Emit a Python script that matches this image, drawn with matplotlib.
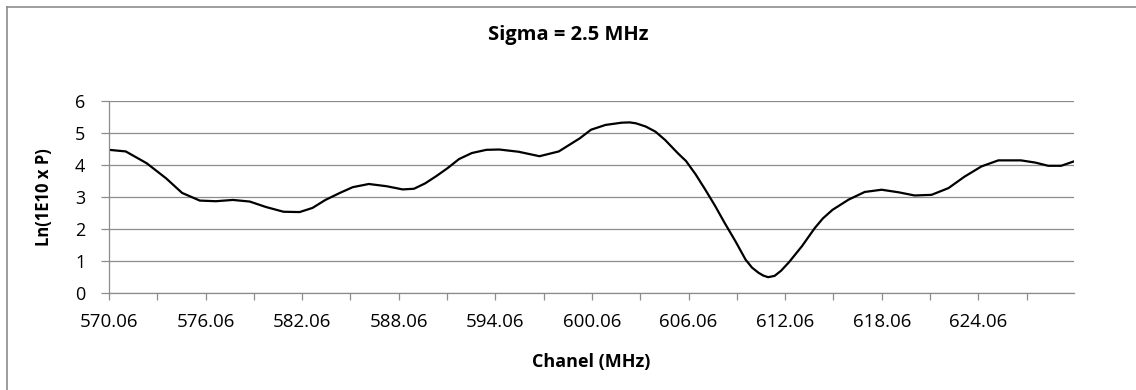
import matplotlib
matplotlib.use("Agg")
import matplotlib.pyplot as plt
from matplotlib.lines import Line2D

# Data
freq_mhz = [570.06, 571.1, 572.4, 573.6, 574.6, 575.7, 576.7, 577.75, 578.8, 579.8,
            580.9, 581.9, 582.7, 583.5, 584.4, 585.2, 586.2, 587.3, 588.3, 589.0,
            589.7, 590.4, 591.1, 591.8, 592.6, 593.5, 594.3, 595.5, 596.8, 598.0,
            599.3, 600.0, 600.9, 601.9, 602.4, 602.8, 603.4, 604.0, 604.6, 605.4,
            605.9, 606.5, 607.1, 607.7, 608.3, 609.0, 609.6, 610.0, 610.4, 610.7,
            611.0, 611.4, 611.8, 612.3, 612.7, 613.1, 613.9, 614.4, 615.0, 616.0,
            617.0, 618.05, 619.1, 620.1, 621.15, 622.2, 623.2, 624.25, 625.3, 626.7,
            627.6, 628.4, 629.2, 629.95]
ln_power = [4.47, 4.42, 4.05, 3.58, 3.12, 2.88, 2.86, 2.90, 2.85, 2.68,
            2.53, 2.52, 2.65, 2.90, 3.12, 3.30, 3.40, 3.33, 3.23, 3.25,
            3.42, 3.65, 3.90, 4.18, 4.37, 4.47, 4.48, 4.41, 4.27, 4.42,
            4.83, 5.10, 5.25, 5.32, 5.33, 5.30, 5.20, 5.04, 4.78, 4.36,
            4.12, 3.70, 3.22, 2.72, 2.18, 1.58, 1.03, 0.78, 0.62, 0.53,
            0.48, 0.52, 0.68, 0.95, 1.20, 1.45, 2.02, 2.32, 2.59, 2.91,
            3.15, 3.22, 3.14, 3.04, 3.06, 3.27, 3.63, 3.95, 4.14, 4.14,
            4.07, 3.97, 3.97, 4.10]
x_ticks = [570.06 + 3 * i for i in range(20)]
x_tick_labels = ["570.06", "", "576.06", "", "582.06", "", "588.06", "", "594.06", "",
                 "600.06", "", "606.06", "", "612.06", "", "618.06", "", "624.06", ""]
y_ticks = [0, 1, 2, 3, 4, 5, 6]

title = "Sigma = 2.5 MHz"
xlabel = "Chanel (MHz)"
ylabel = "Ln(1E10 x P)"

plt.rcParams['font.family'] = ['Open Sans', 'DejaVu Sans']

W, H = 1136, 390
fig = plt.figure(figsize=(W / 100, H / 100), dpi=100)
ax = fig.add_axes([109 / W, 1 - 292.5 / H, (1074 - 109) / W, (292.5 - 101) / H])

grid_c = '#8c8c8c'
ax.plot(freq_mhz, ln_power, color='black', lw=1.6, solid_joinstyle='round')
ax.set_xlim(570.06, 630.0)
ax.set_ylim(0, 6)
ax.set_yticks(y_ticks)
ax.set_xticks(x_ticks)
ax.set_xticklabels(x_tick_labels)
ax.yaxis.grid(True, color=grid_c, lw=0.9)
ax.set_axisbelow(True)
for s in ['top', 'right']:
    ax.spines[s].set_visible(False)
for s in ['left', 'bottom']:
    ax.spines[s].set_color(grid_c)
    ax.spines[s].set_linewidth(0.9)
ax.tick_params(axis='y', length=6, color=grid_c, width=0.9, labelsize=13, pad=11)
ax.tick_params(axis='x', length=5, color=grid_c, width=0.9, labelsize=13.5, pad=10)

fig.text(0.5, 1 - 35 / H, title, ha='center', va='center', fontsize=14.5, fontweight='bold')
fig.text(591 / W, 1 - 362 / H, xlabel, ha='center', va='center', fontsize=13, fontweight='bold')
fig.text(44 / W, 1 - 197 / H, ylabel, ha='center', va='center', fontsize=12,
         fontweight='bold', rotation=90)

# chart area border (left and top edges visible)
fig.add_artist(Line2D([6.5 / W, 6.5 / W], [0, 1 - 7 / H], transform=fig.transFigure,
                      color=grid_c, lw=1.2))
fig.add_artist(Line2D([6.5 / W, 1], [1 - 7 / H, 1 - 7 / H], transform=fig.transFigure,
                      color=grid_c, lw=1.2))

fig.savefig("out.png", dpi=100, facecolor='white')
